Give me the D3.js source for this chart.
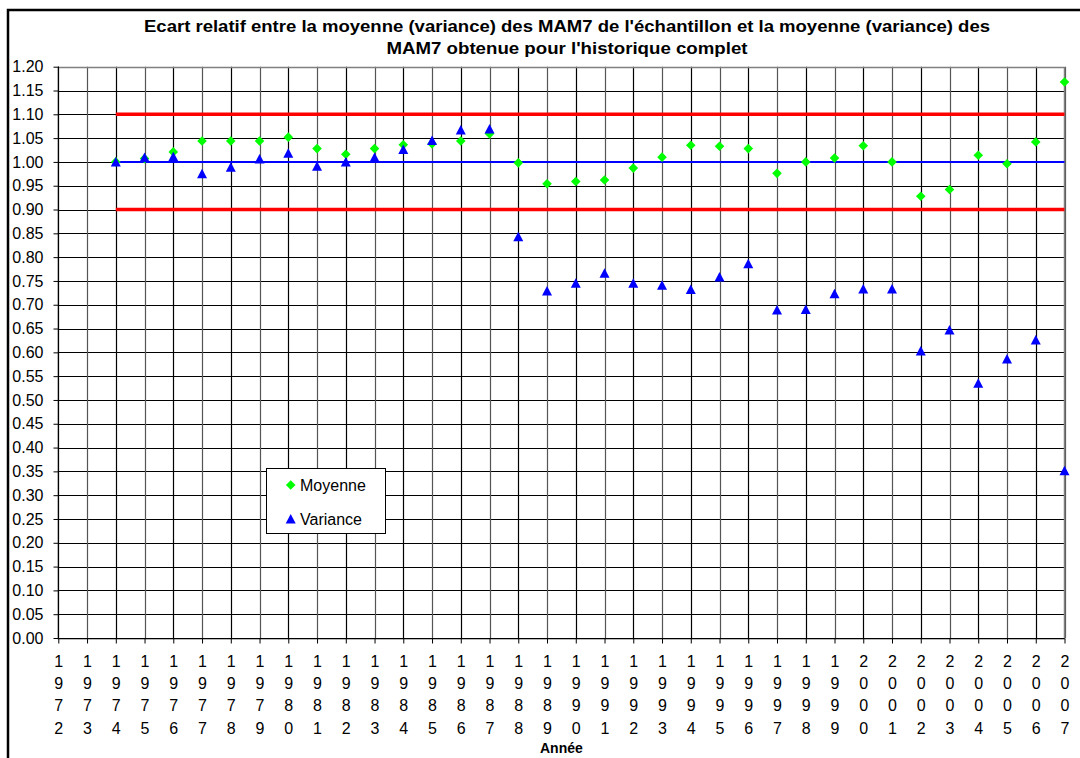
<!DOCTYPE html>
<html>
<head>
<meta charset="utf-8">
<script src="https://cdn.jsdelivr.net/npm/d3@7"></script>
<style>
  html, body { margin: 0; padding: 0; background: #fff; }
  svg { display: block; font-family: "Liberation Sans", Arial, sans-serif; }
</style>
</head>
<body>
<svg id="chart" width="1080" height="758"></svg>
<script>
const years = ["1972","1973","1974","1975","1976","1977","1978","1979","1980","1981","1982","1983","1984","1985","1986","1987","1988","1989","1990","1991","1992","1993","1994","1995","1996","1997","1998","1999","2000","2001","2002","2003","2004","2005","2006","2007"];
const moyenne = [null,null,1.000,1.007,1.021,1.044,1.044,1.044,1.052,1.028,1.016,1.028,1.036,1.038,1.044,1.059,0.998,0.954,0.959,0.962,0.987,1.010,1.035,1.033,1.028,0.976,1.000,1.008,1.034,1.000,0.928,0.942,1.014,0.996,1.042,1.168];
const variance = [null,null,0.999,1.008,1.010,0.974,0.988,1.005,1.017,0.990,0.999,1.008,1.025,1.044,1.066,1.068,0.842,0.728,0.744,0.765,0.744,0.740,0.731,0.757,0.785,0.688,0.689,0.722,0.732,0.732,0.602,0.646,0.534,0.585,0.625,0.350];
const limitStart = "1974", limitEnd = "2007";
const upperLimit = 1.10, lowerLimit = 0.90, reference = 1.00;
const yTicks = d3.range(0, 25).map(i => i * 0.05);
const titleLines = ["Ecart relatif entre la moyenne (variance) des MAM7 de l'échantillon et la moyenne (variance) des", "MAM7 obtenue pour l'historique complet"];
const xTitle = "Année";
const seriesNames = ["Moyenne", "Variance"];

const svg = d3.select("#chart");
const L = 58.3, R = 1064.5, T = 66.7, B = 638;
const x = d3.scalePoint().domain(years).range([L, R]);
const y = d3.scaleLinear().domain([0, 1.2]).range([B, T]);

// outer frame
svg.append("rect").attr("x", 8).attr("y", 10).attr("width", 1100).attr("height", 800)
  .attr("fill", "#fff").attr("stroke", "#000").attr("stroke-width", 2.5);

// gridlines
const grid = svg.append("g");
grid.selectAll("line.h").data(yTicks).join("line")
  .attr("x1", L).attr("x2", R).attr("y1", d => Math.round(y(d)) + 0.5).attr("y2", d => Math.round(y(d)) + 0.5)
  .attr("stroke", "#000").attr("stroke-width", 1);
grid.selectAll("line.v").data(years).join("line")
  .attr("x1", d => Math.round(x(d)) + 0.5).attr("x2", d => Math.round(x(d)) + 0.5).attr("y1", T).attr("y2", B)
  .attr("stroke", d => (+d % 2 ? "#555" : "#000")).attr("stroke-width", 1.2);
svg.append("rect").attr("x", L).attr("y", Math.round(T) + 0.5).attr("width", R - L).attr("height", B - T)
  .attr("fill", "none").attr("stroke", "#808080").attr("stroke-width", 1.5);

// axes
const yAxis = svg.append("g").attr("transform", `translate(${Math.round(L) + 0.5},0)`)
  .call(d3.axisLeft(y).tickValues(yTicks).tickFormat(d3.format(".2f")).tickSize(5).tickPadding(10));
yAxis.selectAll("text").attr("font-size", 16).attr("fill", "#000").attr("font-family", "Liberation Sans, Arial, sans-serif");
yAxis.selectAll("line, path").attr("stroke", "#000");
yAxis.select("path").attr("d", `M0,${T}V${B}`);

const xAxis = svg.append("g").attr("transform", `translate(0,${Math.round(B) + 0.5})`)
  .call(d3.axisBottom(x).tickSize(5).tickFormat(""));
xAxis.selectAll("line, path").attr("stroke", "#000");
xAxis.select("path").attr("d", `M${L},0H${R}`);
xAxis.selectAll(".tick").each(function(d) {
  const t = d3.select(this).append("text").attr("fill", "#000").attr("font-size", 16)
    .attr("text-anchor", "middle").attr("font-family", "Liberation Sans, Arial, sans-serif");
  d.split("").forEach((ch, i) => {
    t.append("tspan").attr("x", 0).attr("y", 28 + i * 22.4).text(ch);
  });
});

// limit lines
const limG = svg.append("g");
[[upperLimit, "#ff0000", 3.5], [lowerLimit, "#ff0000", 3.5], [reference, "#0000ff", 2]].forEach(([v, c, w]) => {
  limG.append("line").attr("x1", x(limitStart)).attr("x2", x(limitEnd))
    .attr("y1", y(v)).attr("y2", y(v)).attr("stroke", c).attr("stroke-width", w);
});

// markers
const diamond = (s) => `M0,${-s}L${s},0L0,${s}L${-s},0Z`;
const triangle = (s) => `M0,${-s}L${s},${s * 0.9}L${-s},${s * 0.9}Z`;
const pts = years.map((yr, i) => ({ yr, m: moyenne[i], v: variance[i] }));
svg.append("g").selectAll("path").data(pts.filter(d => d.m != null)).join("path")
  .attr("d", diamond(4.8)).attr("fill", "#00ff00")
  .attr("transform", d => `translate(${x(d.yr)},${y(d.m)})`);
svg.append("g").selectAll("path").data(pts.filter(d => d.v != null)).join("path")
  .attr("d", triangle(5)).attr("fill", "#0000ff")
  .attr("transform", d => `translate(${x(d.yr)},${y(d.v) - 0.5})`);

// legend
const lg = svg.append("g");
lg.append("rect").attr("x", 266.5).attr("y", 468.5).attr("width", 119).attr("height", 65)
  .attr("fill", "#fff").attr("stroke", "#000").attr("stroke-width", 1);
lg.append("path").attr("d", diamond(4.8)).attr("fill", "#00ff00").attr("transform", "translate(290.7,485)");
lg.append("path").attr("d", triangle(5)).attr("fill", "#0000ff").attr("transform", "translate(290.7,519)");
lg.append("text").attr("x", 300).attr("y", 490.5).attr("font-size", 16).text(seriesNames[0]);
lg.append("text").attr("x", 300).attr("y", 524.5).attr("font-size", 16).text(seriesNames[1]);

// titles
const tcx = 567;
svg.append("text").attr("x", tcx).attr("y", 32).attr("text-anchor", "middle")
  .attr("font-size", 16).attr("font-weight", "bold").attr("textLength", 846).attr("lengthAdjust", "spacingAndGlyphs")
  .text(titleLines[0]);
svg.append("text").attr("x", tcx).attr("y", 53.5).attr("text-anchor", "middle")
  .attr("font-size", 16).attr("font-weight", "bold").attr("textLength", 361).attr("lengthAdjust", "spacingAndGlyphs")
  .text(titleLines[1]);
svg.append("text").attr("x", (L + R) / 2).attr("y", 753).attr("text-anchor", "middle")
  .attr("font-size", 14).attr("font-weight", "bold").text(xTitle);
</script>
</body>
</html>
